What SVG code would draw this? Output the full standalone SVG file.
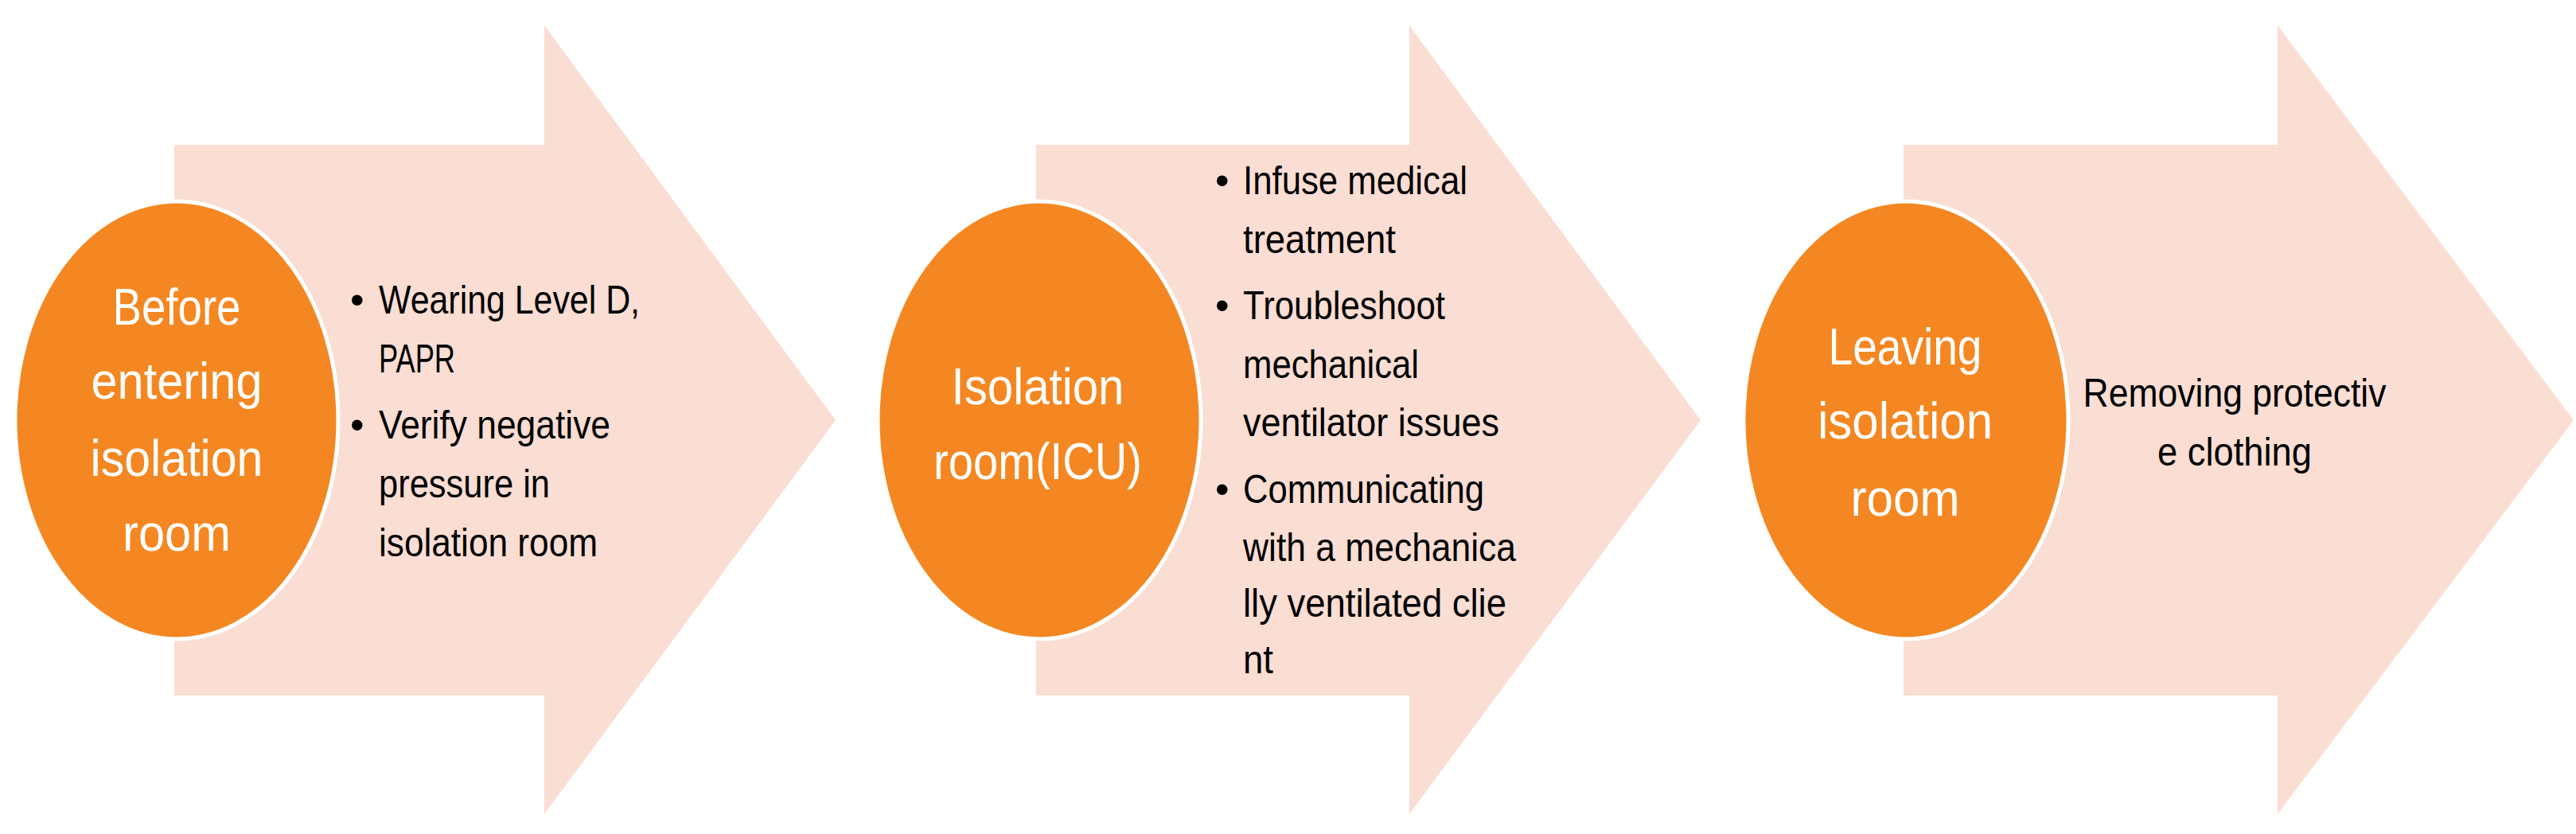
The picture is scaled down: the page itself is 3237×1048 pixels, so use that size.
<svg xmlns="http://www.w3.org/2000/svg" width="3237" height="1048" viewBox="0 0 3237 1048">
<style>
.arr{fill:#FADDD3}
.el{fill:#F48721;stroke:#fff;stroke-width:5}
.ct{font-family:"Liberation Sans",sans-serif;font-size:64px;fill:#fff;text-anchor:middle}
.bt{font-family:"Liberation Sans",sans-serif;font-size:50px;fill:#000}
</style>
<rect width="3237" height="1048" fill="#fff"/>
<g id="connectors"></g>
<g id="step1">
<polygon class="arr" points="219,182 684,182 684,32 1050,528 684,1023 684,874 219,874"/>
<ellipse class="el" cx="222" cy="528" rx="203" ry="275"/>
<text class="ct" x="222" y="408" textLength="161" lengthAdjust="spacingAndGlyphs">Before</text>
<text class="ct" x="222" y="501" textLength="215" lengthAdjust="spacingAndGlyphs">entering</text>
<text class="ct" x="222" y="598" textLength="217" lengthAdjust="spacingAndGlyphs">isolation</text>
<text class="ct" x="222" y="692" textLength="136" lengthAdjust="spacingAndGlyphs">room</text>
<text class="bt" x="440" y="394">•</text>
<text class="bt" x="476" y="394" textLength="328" lengthAdjust="spacingAndGlyphs">Wearing Level D,</text>
<text class="bt" x="476" y="468" textLength="96" lengthAdjust="spacingAndGlyphs">PAPR</text>
<text class="bt" x="440" y="551">•</text>
<text class="bt" x="476" y="551" textLength="291" lengthAdjust="spacingAndGlyphs">Verify negative</text>
<text class="bt" x="476" y="625" textLength="215" lengthAdjust="spacingAndGlyphs">pressure in</text>
<text class="bt" x="476" y="699" textLength="275" lengthAdjust="spacingAndGlyphs">isolation room</text>
</g>
<g id="step2">
<polygon class="arr" points="1302,182 1771,182 1771,32 2137,528 1771,1023 1771,874 1302,874"/>
<ellipse class="el" cx="1306" cy="528" rx="203" ry="275"/>
<text class="ct" x="1304" y="508" textLength="217" lengthAdjust="spacingAndGlyphs">Isolation</text>
<text class="ct" x="1304" y="602" textLength="262" lengthAdjust="spacingAndGlyphs">room(ICU)</text>
<text class="bt" x="1527" y="244">•</text>
<text class="bt" x="1562" y="244" textLength="282" lengthAdjust="spacingAndGlyphs">Infuse medical</text>
<text class="bt" x="1562" y="318" textLength="192" lengthAdjust="spacingAndGlyphs">treatment</text>
<text class="bt" x="1527" y="401">•</text>
<text class="bt" x="1562" y="401" textLength="254" lengthAdjust="spacingAndGlyphs">Troubleshoot</text>
<text class="bt" x="1562" y="475" textLength="221" lengthAdjust="spacingAndGlyphs">mechanical</text>
<text class="bt" x="1562" y="548" textLength="322" lengthAdjust="spacingAndGlyphs">ventilator issues</text>
<text class="bt" x="1527" y="632">•</text>
<text class="bt" x="1562" y="632" textLength="303" lengthAdjust="spacingAndGlyphs">Communicating</text>
<text class="bt" x="1562" y="705" textLength="343" lengthAdjust="spacingAndGlyphs">with a mechanica</text>
<text class="bt" x="1562" y="775" textLength="331" lengthAdjust="spacingAndGlyphs">lly ventilated clie</text>
<text class="bt" x="1562" y="846" textLength="38" lengthAdjust="spacingAndGlyphs">nt</text>
</g>
<g id="step3">
<polygon class="arr" points="2392,182 2862,182 2862,32 3234,528 2862,1023 2862,874 2392,874"/>
<ellipse class="el" cx="2395" cy="528" rx="204" ry="275"/>
<text class="ct" x="2394" y="458" textLength="193" lengthAdjust="spacingAndGlyphs">Leaving</text>
<text class="ct" x="2394" y="551" textLength="220" lengthAdjust="spacingAndGlyphs">isolation</text>
<text class="ct" x="2394" y="648" textLength="137" lengthAdjust="spacingAndGlyphs">room</text>
<text class="bt" x="2808" y="511" text-anchor="middle" textLength="381" lengthAdjust="spacingAndGlyphs">Removing protectiv</text>
<text class="bt" x="2808" y="585" text-anchor="middle" textLength="194" lengthAdjust="spacingAndGlyphs">e clothing</text>
</g>
</svg>
